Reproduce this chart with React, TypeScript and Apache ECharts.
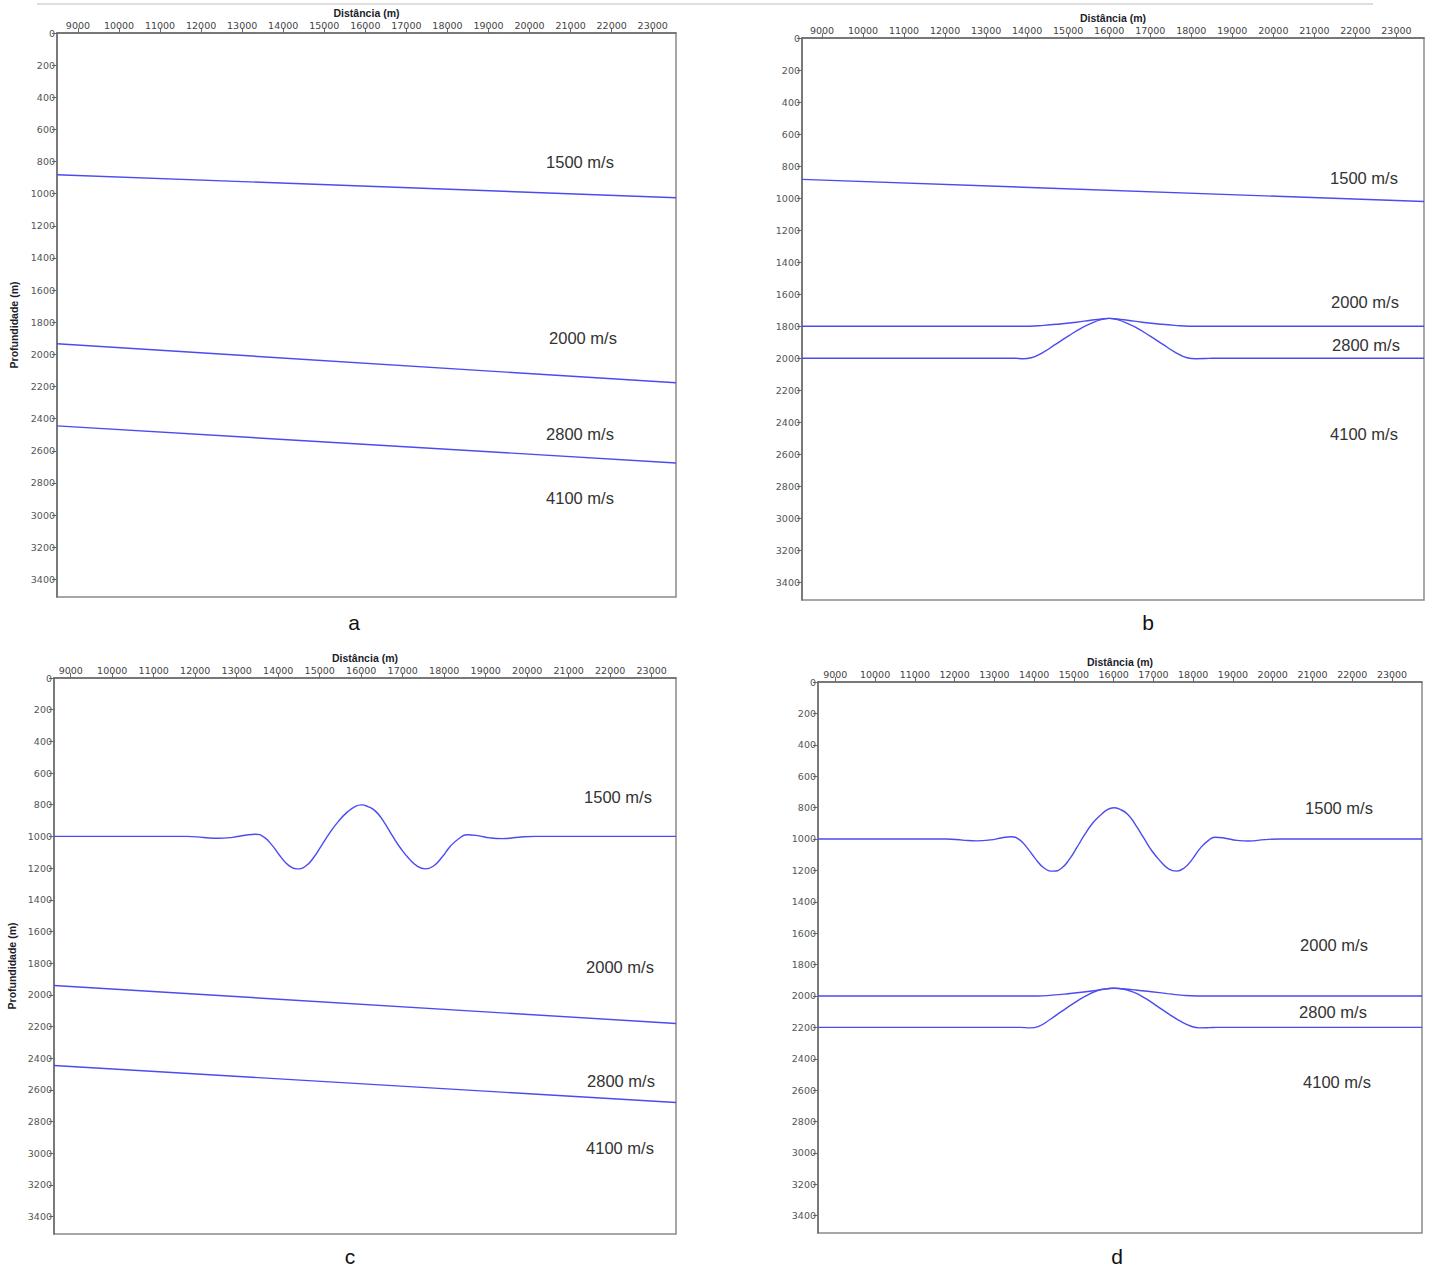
import React, { useEffect, useRef } from "react";
import * as echarts from "echarts";

// ---- tick values ----
const xTickValues = [9000, 10000, 11000, 12000, 13000, 14000, 15000, 16000, 17000, 18000, 19000, 20000, 21000, 22000, 23000];
const yTickValues = [0, 200, 400, 600, 800, 1000, 1200, 1400, 1600, 1800, 2000, 2200, 2400, 2600, 2800, 3000, 3200, 3400];

// ---- axis ranges per panel ----
const xRangeA = [8490, 23567];
const xRangeB = [8513, 23672];
const xRangeC = [8597, 23586];
const xRangeD = [8565, 23754];
const yMax = 3510;

// ---- panel a (dipping layers) ----
const aInterface1 = [[8490, 882], [23567, 1025]];
const aInterface2 = [[8490, 1934], [23567, 2177]];
const aInterface3 = [[8490, 2445], [23567, 2676]];

// ---- panel b ----
const bInterface1 = [[8513, 883], [23672, 1021]];
const bInterface2 = [
  [8513, 1800], [14050, 1800], [14400, 1795], [14800, 1786], [15200, 1775], [15550, 1763], [15800, 1755],
  [16000, 1751], [16200, 1755], [16450, 1763], [16800, 1775], [17200, 1786], [17600, 1795], [17950, 1800],
  [23672, 1800],
];
const bInterface3 = [
  [8513, 2000], [13700, 2000], [13900, 2003], [14100, 1997], [14400, 1962], [14700, 1912], [15000, 1862],
  [15300, 1815], [15600, 1777], [15850, 1756], [16000, 1751], [16150, 1756], [16400, 1777], [16700, 1815],
  [17000, 1862], [17300, 1912], [17600, 1962], [17900, 1997], [18100, 2003], [18350, 2002], [18500, 2000],
  [23672, 2000],
];

// ---- panel c ----
const cInterface1 = [
  [8597, 1000], [11800, 1000], [12200, 1007], [12550, 1012], [12900, 1006], [13200, 993], [13450, 986],
  [13650, 1003], [13850, 1055], [14050, 1125], [14250, 1183], [14450, 1205], [14650, 1190], [14850, 1135],
  [15050, 1055], [15250, 975], [15450, 905], [15650, 850], [15850, 812], [16000, 801], [16150, 810],
  [16350, 842], [16550, 910], [16750, 995], [16950, 1075], [17150, 1140], [17350, 1188], [17550, 1205],
  [17750, 1185], [17950, 1130], [18150, 1062], [18350, 1015], [18550, 990], [18800, 995], [19100, 1009],
  [19400, 1014], [19800, 1005], [20200, 1000], [23586, 1000],
];
const cInterface2 = [[8597, 1941], [23586, 2181]];
const cInterface3 = [[8597, 2446], [23586, 2680]];

// ---- panel d ----
const dInterface1 = [
  [8565, 1000], [11800, 1000], [12200, 1007], [12550, 1012], [12900, 1006], [13200, 992], [13420, 986],
  [13620, 1003], [13820, 1055], [14030, 1125], [14250, 1185], [14480, 1205], [14680, 1188], [14880, 1132],
  [15080, 1052], [15270, 973], [15460, 903], [15660, 850], [15850, 812], [16000, 801], [16150, 810],
  [16350, 842], [16550, 910], [16760, 995], [16960, 1075], [17170, 1140], [17380, 1190], [17580, 1205],
  [17780, 1183], [17980, 1128], [18180, 1058], [18370, 1012], [18550, 989], [18800, 995], [19100, 1009],
  [19400, 1013], [19800, 1004], [20200, 1000], [23754, 1000],
];
const dInterface2 = [
  [8565, 2000], [14100, 2000], [14450, 1995], [14850, 1986], [15250, 1975], [15600, 1963], [15850, 1955],
  [16000, 1951], [16200, 1954], [16550, 1962], [16950, 1973], [17350, 1985], [17750, 1996], [18100, 2000],
  [23754, 2000],
];
const dInterface3 = [
  [8565, 2200], [13650, 2200], [13900, 2203], [14100, 2195], [14400, 2150], [14700, 2097], [15000, 2046],
  [15300, 2000], [15600, 1965], [15850, 1953], [16000, 1950], [16200, 1954], [16500, 1976], [16800, 2016],
  [17100, 2066], [17400, 2117], [17700, 2164], [17950, 2193], [18150, 2203], [18400, 2202], [18600, 2200],
  [23754, 2200],
];

const velocityLabels = ["1500 m/s", "2000 m/s", "2800 m/s", "4100 m/s"];
const panelLetters = ["a", "b", "c", "d"];
const xAxisTitle = "Distância (m)";
const yAxisTitle = "Profundidade (m)";

const LINE_COLOR = "#4b4bf2";
const AXIS_COLOR = "#6a6a6a";

export default function App() {
  const ref = useRef<HTMLDivElement>(null);

  useEffect(() => {
    document.body.style.margin = "0";
    if (!ref.current) return;
    const chart = echarts.init(ref.current, null, { renderer: "svg" });

    const grids = [
      { left: 57, top: 33, width: 619, height: 564 },
      { left: 802, top: 38, width: 622, height: 562 },
      { left: 54, top: 678, width: 622, height: 556 },
      { left: 818, top: 682, width: 604, height: 551 },
    ];
    const xRanges = [xRangeA, xRangeB, xRangeC, xRangeD];

    const xAxes = xRanges.map((r, i) => ({
      type: "value",
      gridIndex: i,
      position: "top",
      min: r[0],
      max: r[1],
      name: xAxisTitle,
      nameLocation: "middle",
      nameGap: 15,
      nameTextStyle: { fontFamily: "Liberation Sans", fontWeight: "bold", fontSize: 10.5, color: "#1c1c2a" },
      axisLine: { show: true, lineStyle: { color: AXIS_COLOR, width: 1.5 } },
      axisTick: { show: true, length: 5, lineStyle: { color: AXIS_COLOR, width: 1 }, customValues: xTickValues },
      axisLabel: {
        show: true,
        customValues: xTickValues,
        margin: 3,
        fontFamily: "DejaVu Sans",
        fontSize: 9.5,
        color: "#444",
        formatter: (v: number) => String(v),
      },
      splitLine: { show: false },
    }));

    const yAxes = grids.map((_, i) => ({
      type: "value",
      gridIndex: i,
      inverse: true,
      min: 0,
      max: yMax,
      axisLine: { show: true, lineStyle: { color: AXIS_COLOR, width: 1.5 } },
      axisTick: { show: true, length: 5, lineStyle: { color: AXIS_COLOR, width: 1 }, customValues: yTickValues },
      axisLabel: {
        show: true,
        customValues: yTickValues,
        margin: 2,
        fontFamily: "DejaVu Sans",
        fontSize: 9.5,
        color: "#555",
        formatter: (v: number) => String(v),
      },
      splitLine: { show: false },
    }));

    const panelData = [
      [aInterface1, aInterface2, aInterface3],
      [bInterface1, bInterface2, bInterface3],
      [cInterface1, cInterface2, cInterface3],
      [dInterface1, dInterface2, dInterface3],
    ];
    const series: any[] = [];
    panelData.forEach((lines, i) => {
      lines.forEach((data) => {
        series.push({
          type: "line",
          xAxisIndex: i,
          yAxisIndex: i,
          data,
          showSymbol: false,
          symbol: "none",
          smooth: data.length > 2 ? 0.5 : false,
          lineStyle: { color: LINE_COLOR, width: 1.4 },
          silent: true,
        });
      });
    });

    const labelPositions = [
      [[580, 162], [583, 338], [580, 434], [580, 498]],
      [[1364, 178], [1365, 302], [1366, 345], [1364, 434]],
      [[618, 797], [620, 967], [621, 1081], [620, 1148]],
      [[1339, 808], [1334, 945], [1333, 1012], [1337, 1082]],
    ];
    const letterPositions = [[354, 622], [1148, 622], [350, 1256], [1117, 1256]];
    const yTitlePositions = [[14, 325], [12, 966]];

    const graphics: any[] = [
      {
        type: "line",
        shape: { x1: 37, y1: 4, x2: 1373, y2: 4 },
        style: { stroke: "#bdbdbd", lineWidth: 1 },
      },
    ];
    yTitlePositions.forEach((p) => {
      graphics.push({
        type: "text",
        x: p[0],
        y: p[1],
        rotation: Math.PI / 2,
        style: {
          text: yAxisTitle,
          fontFamily: "Liberation Sans",
          fontWeight: "bold",
          fontSize: 10.5,
          fill: "#1c1c2a",
          align: "center",
          verticalAlign: "middle",
        },
      });
    });
    labelPositions.forEach((pts) => {
      pts.forEach((p, j) => {
        graphics.push({
          type: "text",
          x: p[0],
          y: p[1],
          style: {
            text: velocityLabels[j],
            fontFamily: "Liberation Sans",
            fontSize: 16.5,
            fill: "#333",
            align: "center",
            verticalAlign: "middle",
          },
        });
      });
    });
    letterPositions.forEach((p, i) => {
      graphics.push({
        type: "text",
        x: p[0],
        y: p[1],
        style: {
          text: panelLetters[i],
          fontFamily: "Liberation Sans",
          fontSize: 21,
          fill: "#111",
          align: "center",
          verticalAlign: "middle",
        },
      });
    });

    chart.setOption({
      animation: false,
      backgroundColor: "#ffffff",
      grid: grids.map((g) => ({ ...g, show: true, borderColor: "#8a8a8a", borderWidth: 1.5, backgroundColor: "transparent" })),
      xAxis: xAxes,
      yAxis: yAxes,
      series,
      graphic: graphics,
    });

    return () => chart.dispose();
  }, []);

  return <div ref={ref} style={{ width: 1435, height: 1267 }} />;
}
